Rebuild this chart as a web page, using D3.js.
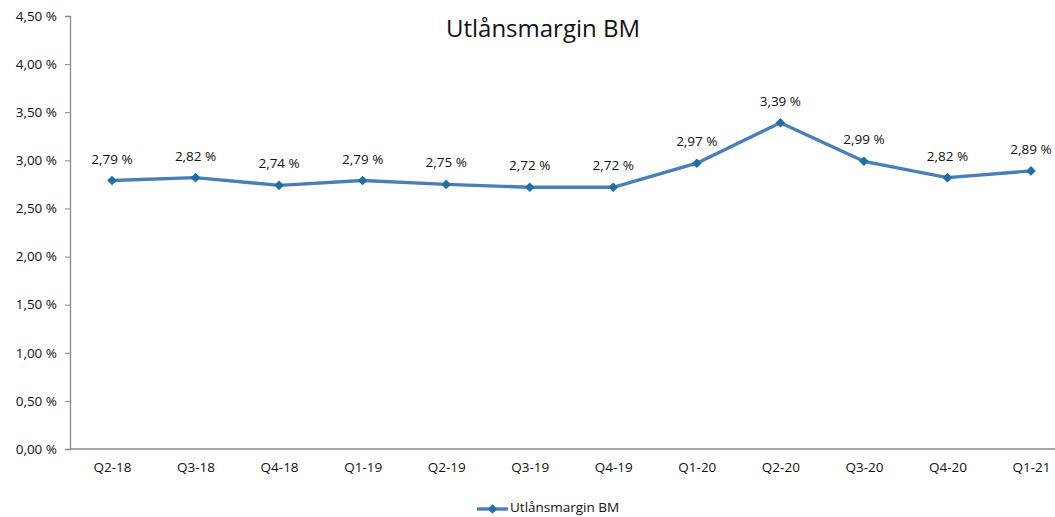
<!DOCTYPE html>
<html>
<head>
<meta charset="utf-8">
<script src="https://cdn.jsdelivr.net/npm/d3@7"></script>
<style>
  body { margin: 0; background: #fff; }
  text { font-family: "Open Sans", "Noto Sans", sans-serif; fill: #111; }
</style>
</head>
<body>
<div id="chart"></div>
<script>
const quarters = ['Q2-18', 'Q3-18', 'Q4-18', 'Q1-19', 'Q2-19', 'Q3-19', 'Q4-19', 'Q1-20', 'Q2-20', 'Q3-20', 'Q4-20', 'Q1-21'];
const margin = [2.79, 2.82, 2.74, 2.79, 2.75, 2.72, 2.72, 2.97, 3.39, 2.99, 2.82, 2.89];
const yTicks = [0, 0.5, 1, 1.5, 2, 2.5, 3, 3.5, 4, 4.5];
const seriesName = 'Utlånsmargin BM';

const w = 1055;
const h = 517;
const fmt = v => d3.format('.2f')(v).replace('.', ',') + ' %';

const svg = d3.select('#chart')
  .append('svg')
  .attr('width', w)
  .attr('height', h);

// Scales
const xScale = d3.scalePoint()
  .domain(quarters)
  .range([112, 1031]);

const yScale = d3.scaleLinear()
  .domain([0, 4.5])
  .range([449, 16]);

// Title
svg.append('text')
  .attr('x', 543)
  .attr('y', 37)
  .attr('text-anchor', 'middle')
  .attr('font-size', '24px')
  .text('Utlånsmargin BM');

// Y axis
const yAxis = d3.axisLeft(yScale)
  .tickValues(yTicks)
  .tickFormat(fmt)
  .tickSize(5)
  .tickPadding(8);

const gy = svg.append('g')
  .attr('transform', 'translate(70, 0)')
  .call(yAxis);
gy.select('.domain').attr('stroke', '#888').attr('stroke-width', 1.3);
gy.selectAll('.tick line').attr('stroke', '#888');
gy.selectAll('.tick text').attr('font-size', '13.5px').style('font-family', '"Open Sans", sans-serif').attr('fill', '#111');

// X axis
const gx = svg.append('g')
  .attr('transform', 'translate(0, 449)')
  .call(d3.axisBottom(xScale).tickSize(0).tickPadding(13));
gx.select('.domain').attr('d', `M70,0H${w}`).attr('stroke', '#888').attr('stroke-width', 1.3);
gx.selectAll('.tick text').attr('font-size', '13.5px').style('font-family', '"Open Sans", sans-serif').attr('fill', '#111');

// Line
const line = d3.line()
  .x((d, i) => xScale(quarters[i]))
  .y(d => yScale(d));

svg.append('path')
  .datum(margin)
  .attr('d', line)
  .attr('fill', 'none')
  .attr('stroke', '#4a7ebb')
  .attr('stroke-width', 3.4)
  .attr('stroke-linejoin', 'round');

svg.selectAll('.marker')
  .data(margin)
  .enter()
  .append('path')
  .attr('class', 'marker')
  .attr('transform', (d, i) => `translate(${xScale(quarters[i])}, ${yScale(d)}) rotate(45)`)
  .attr('d', d3.symbol().type(d3.symbolSquare).size(46))
  .attr('fill', '#1f6fa5');

// Data labels
svg.selectAll('.label')
  .data(margin)
  .enter()
  .append('text')
  .attr('class', 'label')
  .attr('x', (d, i) => xScale(quarters[i]))
  .attr('y', d => yScale(d) - 17)
  .attr('text-anchor', 'middle')
  .attr('font-size', '13.5px')
  .text(fmt);

// Legend
const lg = svg.append('g').attr('transform', 'translate(477, 509)');
lg.append('line')
  .attr('x1', 0).attr('x2', 31)
  .attr('stroke', '#4a7ebb')
  .attr('stroke-width', 3.4);
lg.append('path')
  .attr('transform', 'translate(15.5, 0) rotate(45)')
  .attr('d', d3.symbol().type(d3.symbolSquare).size(46))
  .attr('fill', '#1f6fa5');
lg.append('text')
  .attr('x', 33)
  .attr('y', 3)
  .attr('font-size', '13.5px')
  .text(seriesName);
</script>
</body>
</html>
